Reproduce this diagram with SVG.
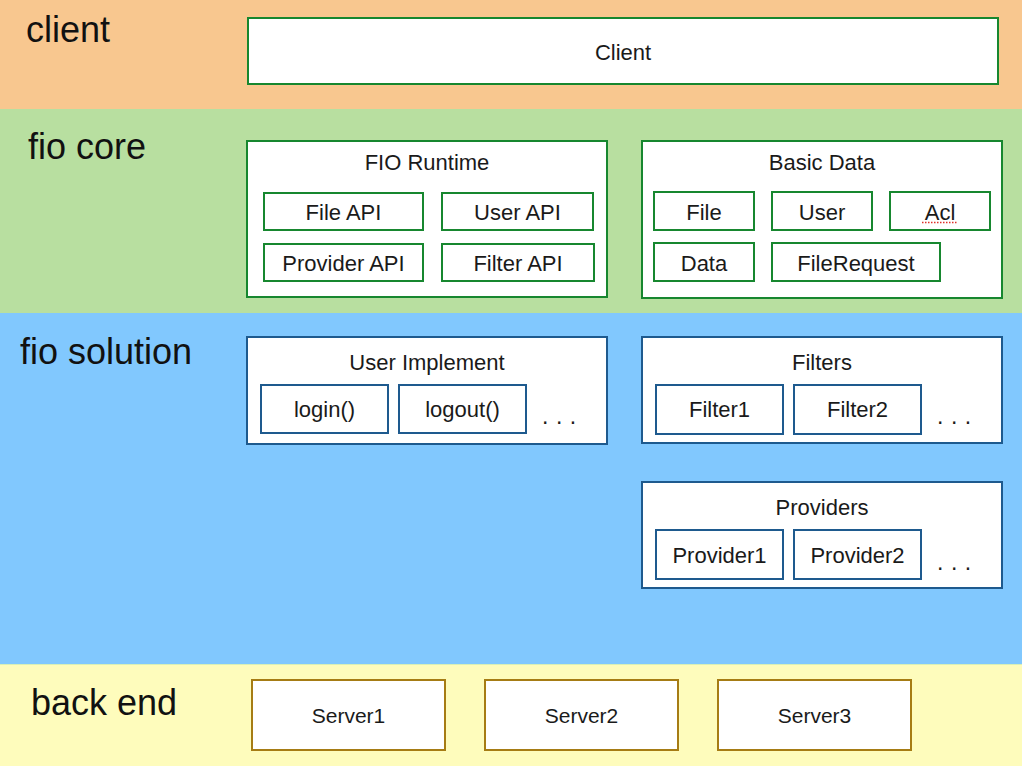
<svg xmlns="http://www.w3.org/2000/svg" width="1022" height="766" viewBox="0 0 1022 766">
<style>
.band-label{font-family:"Liberation Sans",Arial,sans-serif;font-size:36px;fill:#111;}
.t{font-family:"Liberation Sans",Arial,sans-serif;font-size:22px;fill:#1a1a1a;text-anchor:middle;}
.ts{font-family:"Liberation Sans",Arial,sans-serif;font-size:21px;fill:#1a1a1a;text-anchor:middle;}
.dots{font-family:"Liberation Sans",Arial,sans-serif;font-size:23px;fill:#1a1a1a;letter-spacing:7.5px;}
.g{fill:#fff;stroke:#17872F;stroke-width:2;}
.b{fill:#fff;stroke:#1E5A8E;stroke-width:2;}
.y{fill:#fff;stroke:#A67C14;stroke-width:2;}
</style>
<g id="bands">
<rect x="0" y="0" width="1022" height="109" fill="#F8C78F"/>
<rect x="0" y="109" width="1022" height="204" fill="#B8DFA0"/>
<rect x="0" y="313" width="1022" height="351" fill="#81C8FE"/>
<rect x="0" y="664" width="1022" height="102" fill="#FEFCBC"/>
<line x1="0" y1="664.5" x2="1022" y2="664.5" stroke="#D8F0B8" stroke-width="1"/>
<text class="band-label" x="26" y="42">client</text>
<text class="band-label" x="28" y="159">fio core</text>
<text class="band-label" x="20" y="364">fio solution</text>
<text class="band-label" x="31" y="715">back end</text>
</g>
<g id="connectors"/>
<g id="client">
<rect class="g" x="248" y="18" width="750" height="66"/>
<text class="t" x="623" y="60">Client</text>
</g>
<g id="fio-runtime">
<rect class="g" x="247" y="141" width="360" height="156"/>
<text class="t" x="427" y="170">FIO Runtime</text>
<g id="file-api"><rect class="g" x="264" y="193" width="159" height="37"/><text class="t" x="343.5" y="220">File API</text></g>
<g id="user-api"><rect class="g" x="442" y="193" width="151" height="37"/><text class="t" x="517.5" y="220">User API</text></g>
<g id="provider-api"><rect class="g" x="264" y="244" width="159" height="37"/><text class="t" x="343.5" y="271">Provider API</text></g>
<g id="filter-api"><rect class="g" x="442" y="244" width="152" height="37"/><text class="t" x="518" y="271">Filter API</text></g>
</g>
<g id="basic-data">
<rect class="g" x="642" y="141" width="360" height="157"/>
<text class="t" x="822" y="170">Basic Data</text>
<g id="file"><rect class="g" x="654" y="192" width="100" height="38"/><text class="t" x="704" y="220">File</text></g>
<g id="user"><rect class="g" x="772" y="192" width="100" height="38"/><text class="t" x="822" y="220">User</text></g>
<g id="acl"><rect class="g" x="890" y="192" width="100" height="38"/><text class="t" x="940" y="220">Acl</text>
<line x1="922" y1="222.5" x2="958" y2="222.5" stroke="#E0302A" stroke-width="1.5" stroke-dasharray="1.5,1.5"/></g>
<g id="data"><rect class="g" x="654" y="243" width="100" height="38"/><text class="t" x="704" y="271">Data</text></g>
<g id="filerequest"><rect class="g" x="772" y="243" width="168" height="38"/><text class="t" x="856" y="271">FileRequest</text></g>
</g>
<g id="user-implement">
<rect class="b" x="247" y="337" width="360" height="107"/>
<text class="t" x="427" y="370">User Implement</text>
<g id="login"><rect class="b" x="261" y="385" width="127" height="48"/><text class="t" x="324.5" y="417">login()</text></g>
<g id="logout"><rect class="b" x="399" y="385" width="127" height="48"/><text class="t" x="462.5" y="417">logout()</text></g>
<text class="dots" x="542" y="424">...</text>
</g>
<g id="filters">
<rect class="b" x="642" y="337" width="360" height="106"/>
<text class="t" x="822" y="370">Filters</text>
<g id="filter1"><rect class="b" x="656" y="385" width="127" height="49"/><text class="t" x="719.5" y="417">Filter1</text></g>
<g id="filter2"><rect class="b" x="794" y="385" width="127" height="49"/><text class="t" x="857.5" y="417">Filter2</text></g>
<text class="dots" x="937" y="424">...</text>
</g>
<g id="providers">
<rect class="b" x="642" y="482" width="360" height="106"/>
<text class="t" x="822" y="515">Providers</text>
<g id="provider1"><rect class="b" x="656" y="530" width="127" height="49"/><text class="t" x="719.5" y="563">Provider1</text></g>
<g id="provider2"><rect class="b" x="794" y="530" width="127" height="49"/><text class="t" x="857.5" y="563">Provider2</text></g>
<text class="dots" x="937" y="570">...</text>
</g>
<g id="server1"><rect class="y" x="252" y="680" width="193" height="70"/><text class="ts" x="348.5" y="723">Server1</text></g>
<g id="server2"><rect class="y" x="485" y="680" width="193" height="70"/><text class="ts" x="581.5" y="723">Server2</text></g>
<g id="server3"><rect class="y" x="718" y="680" width="193" height="70"/><text class="ts" x="814.5" y="723">Server3</text></g>
</svg>
